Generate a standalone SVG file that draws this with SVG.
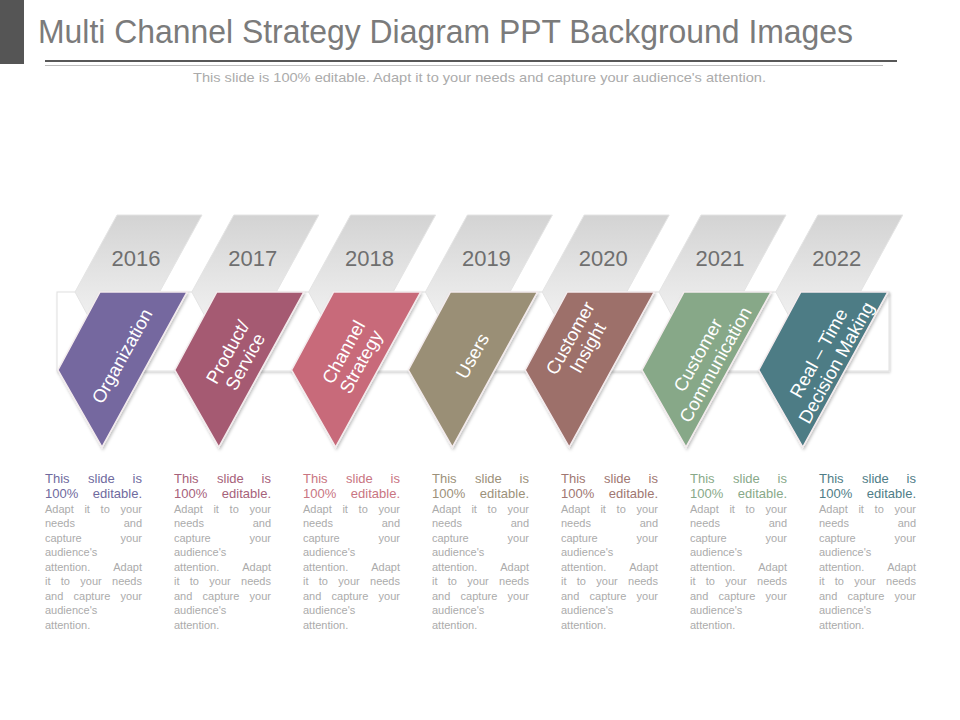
<svg xmlns="http://www.w3.org/2000/svg" width="960" height="720" viewBox="0 0 960 720">
<defs>
<linearGradient id="tabGrad" x1="0" y1="215" x2="0" y2="320" gradientUnits="userSpaceOnUse">
<stop offset="0" stop-color="#d3d3d3"/>
<stop offset="1" stop-color="#f1f1f1"/>
</linearGradient>
<filter id="sh" x="-20%" y="-20%" width="150%" height="150%">
<feDropShadow dx="1" dy="2" stdDeviation="1.5" flood-color="#000" flood-opacity="0.25"/>
</filter>
<filter id="shb" x="-5%" y="-20%" width="110%" height="150%">
<feDropShadow dx="1" dy="1.5" stdDeviation="1.2" flood-color="#000" flood-opacity="0.18"/>
</filter>
</defs>
<style>
.title{font-family:"Liberation Sans",Arial,sans-serif;font-size:34px;fill:#7b7b7b}
.sub{font-family:"Liberation Sans",Arial,sans-serif;font-size:13px;fill:#ababab}
.tab{fill:url(#tabGrad);stroke:#e4e4e4;stroke-width:1}
.year{font-family:"Liberation Sans",Arial,sans-serif;font-size:22px;fill:#6f6f6f;text-anchor:middle}
.shape{stroke:#f4ecee;stroke-width:1.5;filter:url(#sh)}
.lbl{font-family:"Liberation Sans",Arial,sans-serif;font-size:18.5px;fill:#ffffff;text-anchor:middle}
.hd{font-family:"Liberation Sans",Arial,sans-serif;font-size:13px}
.bd{font-family:"Liberation Sans",Arial,sans-serif;font-size:11px;fill:#ababab}
</style>
<rect width="960" height="720" fill="#ffffff"/>
<g id="header">
<rect x="0" y="0" width="24" height="64" fill="#555555"/>
<text class="title" x="38" y="43" textLength="815" lengthAdjust="spacingAndGlyphs">Multi Channel Strategy Diagram PPT Background Images</text>
<line x1="45" y1="61" x2="897" y2="61" stroke="#585858" stroke-width="2.2"/>
<line x1="45" y1="65.5" x2="883" y2="65.5" stroke="#bdbdbd" stroke-width="1"/>
<text class="sub" x="193" y="82" textLength="573" lengthAdjust="spacingAndGlyphs">This slide is 100% editable. Adapt it to your needs and capture your audience's attention.</text>
</g>
<g id="band">
<rect x="57" y="292" width="832" height="79" fill="#ffffff" stroke="#e0e0e0" stroke-width="1" filter="url(#shb)"/>
</g>
<g id="tabs">
<g id="tab-2016"><polygon class="tab" points="117,215 202,215 117,369 75,292"/><text class="year" x="136" y="266">2016</text></g>
<g id="tab-2017" transform="translate(116.8,0)"><polygon class="tab" points="117,215 202,215 117,369 75,292"/><text class="year" x="136" y="266">2017</text></g>
<g id="tab-2018" transform="translate(233.6,0)"><polygon class="tab" points="117,215 202,215 117,369 75,292"/><text class="year" x="136" y="266">2018</text></g>
<g id="tab-2019" transform="translate(350.4,0)"><polygon class="tab" points="117,215 202,215 117,369 75,292"/><text class="year" x="136" y="266">2019</text></g>
<g id="tab-2020" transform="translate(467.2,0)"><polygon class="tab" points="117,215 202,215 117,369 75,292"/><text class="year" x="136" y="266">2020</text></g>
<g id="tab-2021" transform="translate(584,0)"><polygon class="tab" points="117,215 202,215 117,369 75,292"/><text class="year" x="136" y="266">2021</text></g>
<g id="tab-2022" transform="translate(700.8,0)"><polygon class="tab" points="117,215 202,215 117,369 75,292"/><text class="year" x="136" y="266">2022</text></g>
</g>
<g id="connectors"></g>
<g id="node-organization">
<polygon class="shape" fill="#74679f" points="100,292 187,292 102,447 58,370"/>
<text class="lbl" transform="translate(122,356) rotate(-61)" y="6.5">Organization</text>
</g>
<g id="node-product" transform="translate(116.8,0)">
<polygon class="shape" fill="#a55a72" points="100,292 187,292 102,447 58,370"/>
<text class="lbl" transform="translate(120,357) rotate(-61)"><tspan x="0" y="-4">Product/</tspan><tspan x="0" y="16">Service</tspan></text>
</g>
<g id="node-channel" transform="translate(233.6,0)">
<polygon class="shape" fill="#c86b7a" points="100,292 187,292 102,447 58,370"/>
<text class="lbl" transform="translate(119,357) rotate(-61)"><tspan x="0" y="-4">Channel</tspan><tspan x="0" y="16">Strategy</tspan></text>
</g>
<g id="node-users" transform="translate(350.4,0)">
<polygon class="shape" fill="#9a8f76" points="100,292 187,292 102,447 58,370"/>
<text class="lbl" transform="translate(122,356) rotate(-61)" y="6.5">Users</text>
</g>
<g id="node-insight" transform="translate(467.2,0)">
<polygon class="shape" fill="#9d706b" points="100,292 187,292 102,447 58,370"/>
<text class="lbl" transform="translate(112,343) rotate(-61)"><tspan x="0" y="-4">Customer</tspan><tspan x="0" y="16">Insight</tspan></text>
</g>
<g id="node-communication" transform="translate(584,0)">
<polygon class="shape" fill="#87a888" points="100,292 187,292 102,447 58,370"/>
<text class="lbl" transform="translate(123,360) rotate(-61)"><tspan x="0" y="-4">Customer</tspan><tspan x="0" y="16">Communication</tspan></text>
</g>
<g id="node-realtime" transform="translate(700.8,0)">
<polygon class="shape" fill="#4d7b85" points="100,292 187,292 102,447 58,370"/>
<text class="lbl" transform="translate(127,358) rotate(-61)"><tspan x="0" y="-4">Real – Time</tspan><tspan x="0" y="16">Decision Making</tspan></text>
</g>
<g id="descriptions">
<g id="desc-1" transform="translate(45,0)" fill="#6f6a9e">
<text class="hd" y="483"><tspan x="0">This</tspan><tspan x="43">slide</tspan><tspan x="97" text-anchor="end">is</tspan></text>
<text class="hd" y="498"><tspan x="0">100%</tspan><tspan x="97" text-anchor="end">editable.</tspan></text>
<text class="bd" y="512.5"><tspan x="0">Adapt</tspan><tspan x="39.4">it</tspan><tspan x="55.6">to</tspan><tspan x="97" text-anchor="end">your</tspan></text>
<text class="bd" y="527"><tspan x="0">needs</tspan><tspan x="97" text-anchor="end">and</tspan></text>
<text class="bd" y="541.5"><tspan x="0">capture</tspan><tspan x="97" text-anchor="end">your</tspan></text>
<text class="bd" x="0" y="556">audience's</text>
<text class="bd" y="570.5"><tspan x="0">attention.</tspan><tspan x="97" text-anchor="end">Adapt</tspan></text>
<text class="bd" y="585"><tspan x="0">it</tspan><tspan x="15.8">to</tspan><tspan x="35.3">your</tspan><tspan x="97" text-anchor="end">needs</tspan></text>
<text class="bd" y="599.5"><tspan x="0">and</tspan><tspan x="28.6">capture</tspan><tspan x="97" text-anchor="end">your</tspan></text>
<text class="bd" x="0" y="614">audience's</text>
<text class="bd" x="0" y="628.5">attention.</text>
</g>
<g id="desc-2" transform="translate(174,0)" fill="#a6617a">
<text class="hd" y="483"><tspan x="0">This</tspan><tspan x="43">slide</tspan><tspan x="97" text-anchor="end">is</tspan></text>
<text class="hd" y="498"><tspan x="0">100%</tspan><tspan x="97" text-anchor="end">editable.</tspan></text>
<text class="bd" y="512.5"><tspan x="0">Adapt</tspan><tspan x="39.4">it</tspan><tspan x="55.6">to</tspan><tspan x="97" text-anchor="end">your</tspan></text>
<text class="bd" y="527"><tspan x="0">needs</tspan><tspan x="97" text-anchor="end">and</tspan></text>
<text class="bd" y="541.5"><tspan x="0">capture</tspan><tspan x="97" text-anchor="end">your</tspan></text>
<text class="bd" x="0" y="556">audience's</text>
<text class="bd" y="570.5"><tspan x="0">attention.</tspan><tspan x="97" text-anchor="end">Adapt</tspan></text>
<text class="bd" y="585"><tspan x="0">it</tspan><tspan x="15.8">to</tspan><tspan x="35.3">your</tspan><tspan x="97" text-anchor="end">needs</tspan></text>
<text class="bd" y="599.5"><tspan x="0">and</tspan><tspan x="28.6">capture</tspan><tspan x="97" text-anchor="end">your</tspan></text>
<text class="bd" x="0" y="614">audience's</text>
<text class="bd" x="0" y="628.5">attention.</text>
</g>
<g id="desc-3" transform="translate(303,0)" fill="#c97582">
<text class="hd" y="483"><tspan x="0">This</tspan><tspan x="43">slide</tspan><tspan x="97" text-anchor="end">is</tspan></text>
<text class="hd" y="498"><tspan x="0">100%</tspan><tspan x="97" text-anchor="end">editable.</tspan></text>
<text class="bd" y="512.5"><tspan x="0">Adapt</tspan><tspan x="39.4">it</tspan><tspan x="55.6">to</tspan><tspan x="97" text-anchor="end">your</tspan></text>
<text class="bd" y="527"><tspan x="0">needs</tspan><tspan x="97" text-anchor="end">and</tspan></text>
<text class="bd" y="541.5"><tspan x="0">capture</tspan><tspan x="97" text-anchor="end">your</tspan></text>
<text class="bd" x="0" y="556">audience's</text>
<text class="bd" y="570.5"><tspan x="0">attention.</tspan><tspan x="97" text-anchor="end">Adapt</tspan></text>
<text class="bd" y="585"><tspan x="0">it</tspan><tspan x="15.8">to</tspan><tspan x="35.3">your</tspan><tspan x="97" text-anchor="end">needs</tspan></text>
<text class="bd" y="599.5"><tspan x="0">and</tspan><tspan x="28.6">capture</tspan><tspan x="97" text-anchor="end">your</tspan></text>
<text class="bd" x="0" y="614">audience's</text>
<text class="bd" x="0" y="628.5">attention.</text>
</g>
<g id="desc-4" transform="translate(432,0)" fill="#9c917a">
<text class="hd" y="483"><tspan x="0">This</tspan><tspan x="43">slide</tspan><tspan x="97" text-anchor="end">is</tspan></text>
<text class="hd" y="498"><tspan x="0">100%</tspan><tspan x="97" text-anchor="end">editable.</tspan></text>
<text class="bd" y="512.5"><tspan x="0">Adapt</tspan><tspan x="39.4">it</tspan><tspan x="55.6">to</tspan><tspan x="97" text-anchor="end">your</tspan></text>
<text class="bd" y="527"><tspan x="0">needs</tspan><tspan x="97" text-anchor="end">and</tspan></text>
<text class="bd" y="541.5"><tspan x="0">capture</tspan><tspan x="97" text-anchor="end">your</tspan></text>
<text class="bd" x="0" y="556">audience's</text>
<text class="bd" y="570.5"><tspan x="0">attention.</tspan><tspan x="97" text-anchor="end">Adapt</tspan></text>
<text class="bd" y="585"><tspan x="0">it</tspan><tspan x="15.8">to</tspan><tspan x="35.3">your</tspan><tspan x="97" text-anchor="end">needs</tspan></text>
<text class="bd" y="599.5"><tspan x="0">and</tspan><tspan x="28.6">capture</tspan><tspan x="97" text-anchor="end">your</tspan></text>
<text class="bd" x="0" y="614">audience's</text>
<text class="bd" x="0" y="628.5">attention.</text>
</g>
<g id="desc-5" transform="translate(561,0)" fill="#a07772">
<text class="hd" y="483"><tspan x="0">This</tspan><tspan x="43">slide</tspan><tspan x="97" text-anchor="end">is</tspan></text>
<text class="hd" y="498"><tspan x="0">100%</tspan><tspan x="97" text-anchor="end">editable.</tspan></text>
<text class="bd" y="512.5"><tspan x="0">Adapt</tspan><tspan x="39.4">it</tspan><tspan x="55.6">to</tspan><tspan x="97" text-anchor="end">your</tspan></text>
<text class="bd" y="527"><tspan x="0">needs</tspan><tspan x="97" text-anchor="end">and</tspan></text>
<text class="bd" y="541.5"><tspan x="0">capture</tspan><tspan x="97" text-anchor="end">your</tspan></text>
<text class="bd" x="0" y="556">audience's</text>
<text class="bd" y="570.5"><tspan x="0">attention.</tspan><tspan x="97" text-anchor="end">Adapt</tspan></text>
<text class="bd" y="585"><tspan x="0">it</tspan><tspan x="15.8">to</tspan><tspan x="35.3">your</tspan><tspan x="97" text-anchor="end">needs</tspan></text>
<text class="bd" y="599.5"><tspan x="0">and</tspan><tspan x="28.6">capture</tspan><tspan x="97" text-anchor="end">your</tspan></text>
<text class="bd" x="0" y="614">audience's</text>
<text class="bd" x="0" y="628.5">attention.</text>
</g>
<g id="desc-6" transform="translate(690,0)" fill="#88a989">
<text class="hd" y="483"><tspan x="0">This</tspan><tspan x="43">slide</tspan><tspan x="97" text-anchor="end">is</tspan></text>
<text class="hd" y="498"><tspan x="0">100%</tspan><tspan x="97" text-anchor="end">editable.</tspan></text>
<text class="bd" y="512.5"><tspan x="0">Adapt</tspan><tspan x="39.4">it</tspan><tspan x="55.6">to</tspan><tspan x="97" text-anchor="end">your</tspan></text>
<text class="bd" y="527"><tspan x="0">needs</tspan><tspan x="97" text-anchor="end">and</tspan></text>
<text class="bd" y="541.5"><tspan x="0">capture</tspan><tspan x="97" text-anchor="end">your</tspan></text>
<text class="bd" x="0" y="556">audience's</text>
<text class="bd" y="570.5"><tspan x="0">attention.</tspan><tspan x="97" text-anchor="end">Adapt</tspan></text>
<text class="bd" y="585"><tspan x="0">it</tspan><tspan x="15.8">to</tspan><tspan x="35.3">your</tspan><tspan x="97" text-anchor="end">needs</tspan></text>
<text class="bd" y="599.5"><tspan x="0">and</tspan><tspan x="28.6">capture</tspan><tspan x="97" text-anchor="end">your</tspan></text>
<text class="bd" x="0" y="614">audience's</text>
<text class="bd" x="0" y="628.5">attention.</text>
</g>
<g id="desc-7" transform="translate(819,0)" fill="#4f7d87">
<text class="hd" y="483"><tspan x="0">This</tspan><tspan x="43">slide</tspan><tspan x="97" text-anchor="end">is</tspan></text>
<text class="hd" y="498"><tspan x="0">100%</tspan><tspan x="97" text-anchor="end">editable.</tspan></text>
<text class="bd" y="512.5"><tspan x="0">Adapt</tspan><tspan x="39.4">it</tspan><tspan x="55.6">to</tspan><tspan x="97" text-anchor="end">your</tspan></text>
<text class="bd" y="527"><tspan x="0">needs</tspan><tspan x="97" text-anchor="end">and</tspan></text>
<text class="bd" y="541.5"><tspan x="0">capture</tspan><tspan x="97" text-anchor="end">your</tspan></text>
<text class="bd" x="0" y="556">audience's</text>
<text class="bd" y="570.5"><tspan x="0">attention.</tspan><tspan x="97" text-anchor="end">Adapt</tspan></text>
<text class="bd" y="585"><tspan x="0">it</tspan><tspan x="15.8">to</tspan><tspan x="35.3">your</tspan><tspan x="97" text-anchor="end">needs</tspan></text>
<text class="bd" y="599.5"><tspan x="0">and</tspan><tspan x="28.6">capture</tspan><tspan x="97" text-anchor="end">your</tspan></text>
<text class="bd" x="0" y="614">audience's</text>
<text class="bd" x="0" y="628.5">attention.</text>
</g>
</g>
</svg>
